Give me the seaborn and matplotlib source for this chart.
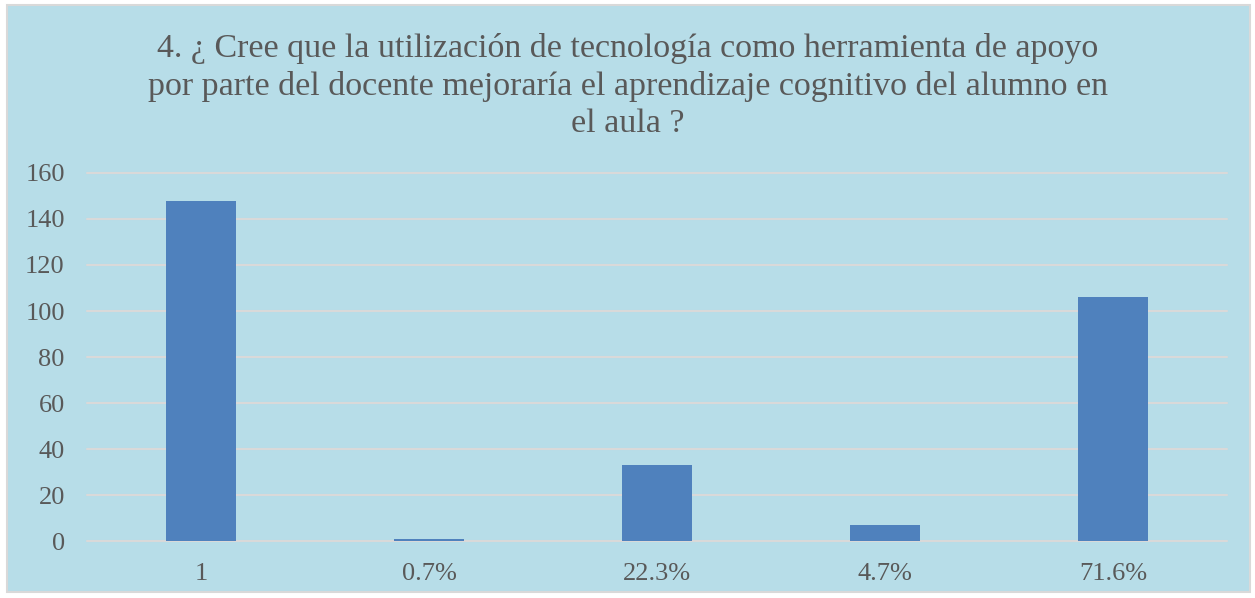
import matplotlib
matplotlib.use("Agg")
import matplotlib.pyplot as plt
import seaborn as sns
import pandas as pd
from matplotlib.patches import Rectangle

# -----------------------------
# DATA
# -----------------------------
categories = ["1", "0.7%", "22.3%", "4.7%", "71.6%"]
counts = [148, 1, 33, 7, 106]

title = ("4. ¿ Cree que la utilización de tecnología como herramienta de apoyo\n"
         "por parte del docente mejoraría el aprendizaje cognitivo del alumno en\n"
         "el aula ?")

df = pd.DataFrame({"Categoria": categories, "Cantidad": counts})

# -----------------------------
# STYLE
# -----------------------------
sns.set_style("white")
plt.rcParams["font.family"] = ["Liberation Serif", "DejaVu Serif"]

bg = "#B7DDE8"
bar_color = "#4F81BD"
grid_color = "#D9D9D9"
text_color = "#595959"

fig = plt.figure(figsize=(12.55, 5.98), dpi=100)
fig.patch.set_facecolor("white")
fig.patches.append(Rectangle((7 / 1255, 6 / 598), 1243 / 1255, 587 / 598,
                             transform=fig.transFigure, facecolor=bg,
                             edgecolor="#D9D9D9", linewidth=1.5, zorder=-10))

ax = fig.add_axes([87 / 1255, 57 / 598, 1140 / 1255, 368 / 598])
ax.patch.set_alpha(0)

sns.barplot(data=df, x="Categoria", y="Cantidad", color=bar_color,
            width=0.31, saturation=1, linewidth=0, ax=ax, zorder=3)

ax.set_ylim(0, 160)
ax.set_xlim(-0.5, len(categories) - 0.5)
ax.set_yticks(range(0, 161, 20))
ax.yaxis.grid(True, color=grid_color, linewidth=1.5)
for gl in ax.get_ygridlines():
    gl.set_clip_on(False)
ax.set_axisbelow(True)
for s in ax.spines.values():
    s.set_visible(False)
ax.tick_params(axis="both", length=0, labelsize=19, colors=text_color)
ax.tick_params(axis="y", pad=16)
ax.tick_params(axis="x", pad=16)
ax.set_xlabel("")
ax.set_ylabel("")

fig.text(0.5, 0.944, title, ha="center", va="top", fontsize=24.5,
         color=text_color, linespacing=1.27)

plt.savefig("out.png", dpi=100, facecolor=fig.get_facecolor())
plt.close()
